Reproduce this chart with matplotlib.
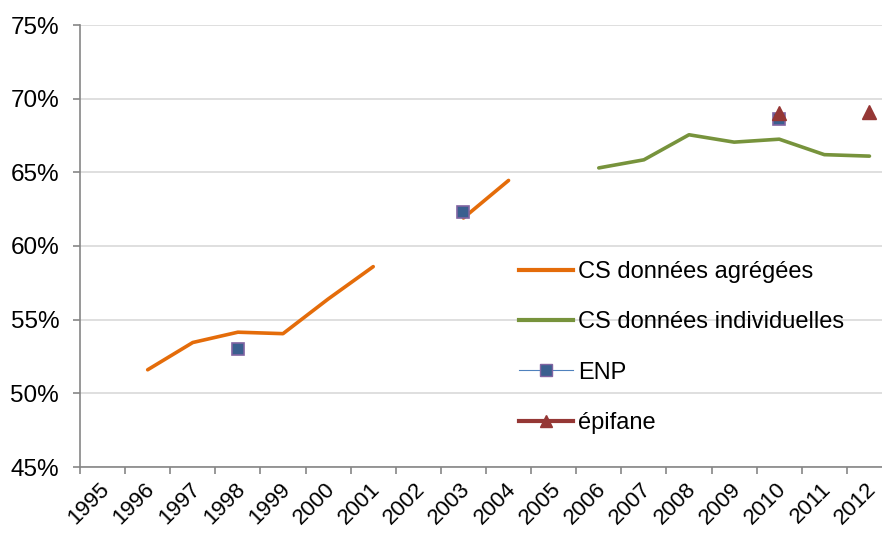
import matplotlib
matplotlib.use("Agg")
import matplotlib.pyplot as plt
import matplotlib.transforms as mtransforms
from matplotlib.lines import Line2D
import numpy as np

plt.rcParams['font.family'] = ['Liberation Sans', 'DejaVu Sans']

years = [str(y) for y in range(1995, 2013)]

# valeurs en %, None = pas de donnée
cs_agregees = [None, 51.6, 53.45, 54.15, 54.05, 56.4, 58.6, None, 61.9, 64.45,
               None, None, None, None, None, None, None, None]
cs_individuelles = [None, None, None, None, None, None, None, None, None, None,
                    None, 65.3, 65.85, 67.55, 67.05, 67.25, 66.2, 66.1]
enp = [None, None, None, 53.0, None, None, None, None, 62.3, None,
       None, None, None, None, None, 68.65, None, None]
epifane = [None, None, None, None, None, None, None, None, None, None,
           None, None, None, None, None, 69.0, None, 69.1]


def to_arr(vals):
    return np.array([np.nan if v is None else v for v in vals], dtype=float)


x = np.arange(len(years))

fig = plt.figure(figsize=(8.82, 5.34), dpi=100)
ax = fig.add_axes([80 / 882, 67 / 534, 812 / 882, 442 / 534])

ax.plot(x, to_arr(cs_agregees), color='#E46C0A', lw=2.6,
        solid_capstyle='round', label='CS données agrégées', zorder=3)
ax.plot(x, to_arr(cs_individuelles), color='#77933C', lw=2.6,
        solid_capstyle='round', label='CS données individuelles', zorder=3)
ax.plot(x, to_arr(enp), color='#4F81BD', lw=0.8, linestyle='none',
        marker='s', markersize=8, markerfacecolor='#3A5F8F',
        markeredgecolor='#8064A2', markeredgewidth=1.2, label='ENP', zorder=4)
ax.plot(x, to_arr(epifane), color='#953735', lw=2.6, linestyle='none',
        marker='^', markersize=10, markerfacecolor='#953735',
        markeredgecolor='#953735', label='épifane', zorder=5)

ax.set_xlim(-0.5, len(years) - 0.5)
ax.set_ylim(45, 75)
ax.set_yticks(np.arange(45, 76, 5))
ax.set_yticklabels([f'{v}%' for v in range(45, 76, 5)], fontsize=17.5)
ax.yaxis.grid(True, color='#D9D9D9', lw=1.2)
ax.set_axisbelow(True)

ax.set_xticks(np.arange(-0.5, len(years), 1))
ax.set_xticklabels([])
ax.set_xticks(x, minor=True)
ax.set_xticklabels(years, minor=True, rotation=45, ha='right',
                   va='center', rotation_mode='anchor', fontsize=16)
ax.tick_params(axis='x', which='minor', length=0, pad=14)
ax.tick_params(axis='both', which='major', length=5, width=1.2,
               color='#868686')
ax.tick_params(axis='y', which='major', pad=10)

# décalage léger des années vers la droite
shift = mtransforms.ScaledTranslation(4 / 100, 0, fig.dpi_scale_trans)
for lab in ax.xaxis.get_minorticklabels():
    lab.set_transform(lab.get_transform() + shift)

for side in ['top', 'right']:
    ax.spines[side].set_visible(False)
for side in ['left', 'bottom']:
    ax.spines[side].set_color('#868686')
    ax.spines[side].set_linewidth(1.2)

# légende sans cadre
handles = [
    Line2D([], [], color='#E46C0A', lw=3),
    Line2D([], [], color='#77933C', lw=3),
    Line2D([], [], color='#4F81BD', lw=0.8, marker='s', markersize=8,
           markerfacecolor='#3A5F8F', markeredgecolor='#8064A2'),
    Line2D([], [], color='#953735', lw=3, marker='^', markersize=8),
]
labels = ['CS données agrégées', 'CS données individuelles', 'ENP', 'épifane']
fig.legend(handles, labels, loc='center left',
           bbox_to_anchor=(519 / 882, 1 - 347.5 / 534),
           bbox_transform=fig.transFigure, frameon=False, fontsize=17,
           borderpad=0, borderaxespad=0, handlelength=2.3,
           handletextpad=0.2, labelspacing=1.2)

fig.savefig('out.png', dpi=100)
